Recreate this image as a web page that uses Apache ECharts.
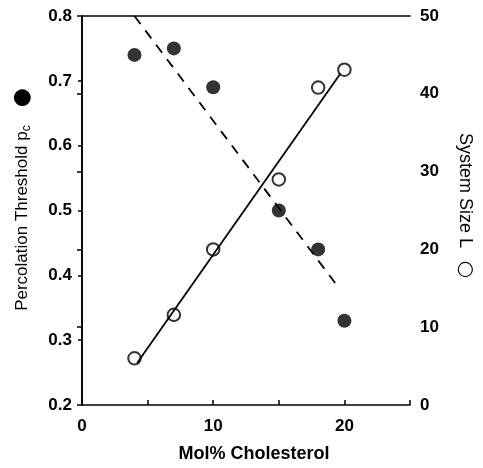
<!DOCTYPE html>
<html>
<head>
<meta charset="utf-8">
<script src="https://cdn.jsdelivr.net/npm/echarts@6/dist/echarts.min.js"></script>
<style>
html,body{margin:0;padding:0;background:#fff;overflow:hidden;}
#c{width:483px;height:468px;}
</style>
</head>
<body>
<div id="c"></div>
<script>
// Data
const cholesterol = [4, 7, 10, 15, 18, 20];
const thresholdPc = [0.74, 0.75, 0.69, 0.50, 0.44, 0.33];
const systemSizeL = [6, 11.6, 20, 29, 40.8, 43.1];
// Fitted lines (end points)
const pcFitX = [4, 19.6];
const pcFitY = [0.80, 0.38];
const sizeFitX = [4.2, 19.7];
const sizeFitY = [5.4, 42.6];
const xTickLabels = [0, 10, 20];
const leftTicks = [0.2, 0.3, 0.4, 0.5, 0.6, 0.7, 0.8];
const rightTicks = [0, 10, 20, 30, 40, 50];

const FONT = 'Liberation Sans, Arial, Helvetica, sans-serif';
const zip = (a, b) => a.map((v, i) => [v, b[i]]);

const chart = echarts.init(document.getElementById('c'), null, {renderer: 'canvas'});
const axisLine = {show: true, lineStyle: {color: '#000', width: 1.6}};
const labelStyle = {color: '#000', fontFamily: FONT, fontSize: 17, fontWeight: 'bold'};

chart.setOption({
  animation: false,
  backgroundColor: '#fff',
  grid: {left: 82, right: 63, top: 16, bottom: 57, containLabel: false},
  xAxis: [{
    type: 'value', min: 0, max: 25, interval: 5, position: 'bottom',
    axisLine: axisLine,
    axisTick: {show: true, inside: true, length: 5, lineStyle: {color: '#000', width: 1.5}},
    axisLabel: Object.assign({margin: 13, formatter: v => xTickLabels.includes(v) ? String(v) : ''}, labelStyle),
    splitLine: {show: false},
    name: 'Mol% Cholesterol', nameLocation: 'middle', nameGap: 40,
    nameTextStyle: {color: '#000', fontFamily: FONT, fontSize: 18, fontWeight: 'bold', padding: [0, 0, 0, 16]}
  }, {
    type: 'value', min: 0, max: 25, position: 'top',
    axisLine: axisLine, axisTick: {show: false}, axisLabel: {show: false}, splitLine: {show: false}
  }],
  yAxis: [{
    type: 'value', min: 0.2, max: 0.8, interval: 0.1, position: 'left',
    axisLine: axisLine,
    axisTick: {show: true, inside: false, length: 4, lineStyle: {color: '#000', width: 1.5}},
    axisLabel: Object.assign({margin: 10, formatter: v => leftTicks.find(t => Math.abs(t - v) < 1e-9).toFixed(1)}, labelStyle),
    splitLine: {show: false},
    name: '{t|Percolation Threshold p}{s|c}{d|  ●}',
    nameLocation: 'middle', nameRotate: 90, nameGap: 49,
    nameTextStyle: {
      color: '#000', fontFamily: FONT, padding: [0, 0, 0, 22],
      rich: {
        t: {fontSize: 17, fontFamily: FONT, color: '#000', lineHeight: 22},
        s: {fontSize: 12, fontFamily: FONT, color: '#000', verticalAlign: 'bottom', lineHeight: 22},
        d: {fontSize: 22, fontFamily: 'DejaVu Sans', color: '#000', lineHeight: 22, padding: [0, 0, 0, 4]}
      }
    }
  }, {
    type: 'value', min: 0, max: 50, interval: 10, position: 'right',
    axisLine: axisLine,
    axisTick: {show: true, inside: true, length: 5, lineStyle: {color: '#000', width: 1.5}},
    axisLabel: Object.assign({margin: 10, formatter: v => String(rightTicks.find(t => Math.abs(t - v) < 1e-9))}, labelStyle),
    splitLine: {show: false},
    name: '{t|System Size L}{d|  ○}',
    nameLocation: 'middle', nameRotate: -90, nameGap: 44,
    nameTextStyle: {
      color: '#000', fontFamily: FONT, padding: [0, 10, 0, 0],
      rich: {
        t: {fontSize: 18, fontFamily: FONT, color: '#000', lineHeight: 22},
        d: {fontSize: 20, fontFamily: 'DejaVu Sans', color: '#000', lineHeight: 22}
      }
    }
  }],
  series: [{
    type: 'line', xAxisIndex: 0, yAxisIndex: 0, data: zip(pcFitX, pcFitY),
    showSymbol: false, symbol: 'none', silent: true,
    lineStyle: {color: '#000', width: 1.8, type: [10, 8]}, z: 2
  }, {
    type: 'line', xAxisIndex: 0, yAxisIndex: 1, data: zip(sizeFitX, sizeFitY),
    showSymbol: false, symbol: 'none', silent: true,
    lineStyle: {color: '#000', width: 1.8}, z: 2
  }, {
    type: 'scatter', xAxisIndex: 0, yAxisIndex: 0, data: zip(cholesterol, thresholdPc),
    symbol: 'circle', symbolSize: 14, itemStyle: {color: '#000'}, z: 3
  }, {
    type: 'scatter', xAxisIndex: 0, yAxisIndex: 1, data: zip(cholesterol, systemSizeL),
    symbol: 'circle', symbolSize: 12.5,
    itemStyle: {color: 'rgba(0,0,0,0)', borderColor: '#000', borderWidth: 2}, z: 3
  }]
});
</script>
</body>
</html>
